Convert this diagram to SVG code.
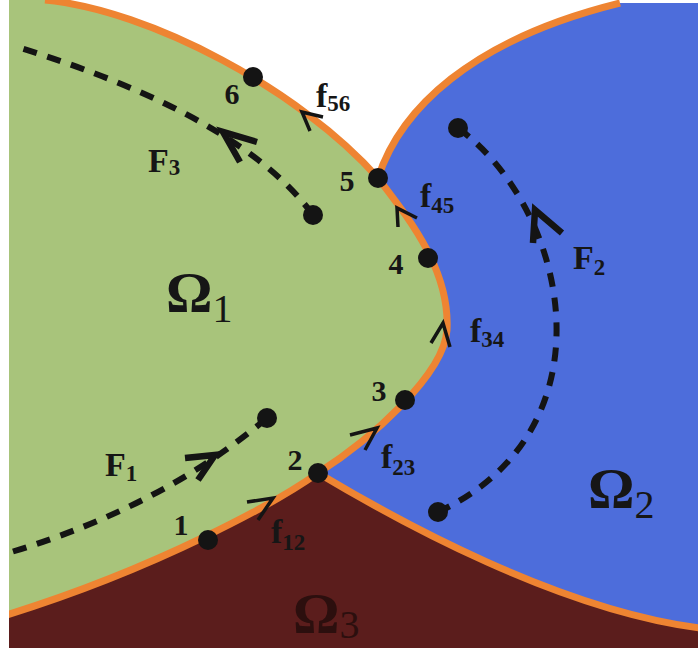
<svg xmlns="http://www.w3.org/2000/svg" width="698" height="651" viewBox="0 0 698 651">
<style>
.edge{fill:none;stroke:#ee8432;stroke-width:7;stroke-linejoin:round}
.pt{fill:#141414}
.lbl{font-family:"Liberation Serif","DejaVu Serif",serif;font-weight:bold;fill:#161616}
.num{font-size:30px;text-anchor:middle}
.f{font-size:34px}
.sub{font-size:23px}
.om{font-family:"Liberation Serif","DejaVu Serif",serif;font-weight:bold;font-size:58px;fill:#161616}
.omsub{font-size:40px;font-weight:normal}
.flow{fill:none;stroke:#141414;stroke-width:6;stroke-dasharray:14 11}
.head{fill:none;stroke:#141414;stroke-width:6.5;stroke-linejoin:miter}
.chev{fill:none;stroke:#141414;stroke-width:3.5}
</style>
<defs>
<clipPath id="frame"><rect x="9" y="0" width="689" height="648"/></clipPath>
</defs>
<rect width="698" height="651" fill="#ffffff"/>
<g clip-path="url(#frame)">
<g id="omega1-region">
<path d="M0,0 L45,0 C150,10 300,90 378,178 C410,220 450,270 447,330 C444,375 370,440 318,473 C280,500 160,568 0,617 Z" fill="#a8c47b"/>
</g>
<g id="omega2-region">
<path d="M378,178 C400,110 470,40 620,3 L700,3 L700,628 C560,610 400,522 318,473 C370,440 444,375 447,330 C450,270 410,220 378,178 Z" fill="#4d6ddb"/>
</g>
<g id="omega3-region">
<path d="M0,617 C160,568 280,500 318,473 C400,522 560,610 700,628 L700,660 L0,660 Z" fill="#5b1d1c"/>
</g>
<g id="interfaces">
<path class="edge" d="M45,0 C150,10 300,90 378,178"/>
<path class="edge" d="M378,178 C400,110 470,40 620,3"/>
<path class="edge" d="M378,178 C410,220 450,270 447,330 C444,375 370,440 318,473"/>
<path class="edge" d="M318,473 C280,500 160,568 0,617"/>
<path class="edge" d="M318,473 C400,522 560,610 700,628"/>
</g>
</g>
<g id="connectors">
<g id="F3-flow">
<path class="flow" d="M313,215 Q240,115 14,46"/>
<circle class="pt" cx="313" cy="215" r="10"/>
<polyline class="head" points="257,142 223,132 240,162"/>
</g>
<g id="F2-flow">
<path class="flow" d="M458,128 C570,210 615,430 438,512"/>
<circle class="pt" cx="458" cy="128" r="10"/>
<circle class="pt" cx="438" cy="512" r="10"/>
<polyline class="head" points="562,233 535,210 533,243"/>
</g>
<g id="F1-flow">
<path class="flow" d="M267,418 Q162,507 8,553"/>
<circle class="pt" cx="267" cy="418" r="10"/>
<polyline class="head" points="185,458 215,455 198,480"/>
</g>
<g id="face-arrows">
<polyline class="chev" points="323,117 302,112 310,131"/>
<polyline class="chev" points="398,227 397,208 417,218"/>
<polyline class="chev" points="431,343 443,323 450,347"/>
<polyline class="chev" points="350,435 377,428 365,450"/>
<polyline class="chev" points="247,502 273,498 258,520"/>
</g>
</g>
<g id="node1"><circle class="pt" cx="208" cy="540" r="10"/><text class="lbl num" x="181" y="535">1</text></g>
<g id="node2"><circle class="pt" cx="318" cy="473" r="10"/><text class="lbl num" x="295" y="470">2</text></g>
<g id="node3"><circle class="pt" cx="405" cy="400" r="10"/><text class="lbl num" x="379" y="401">3</text></g>
<g id="node4"><circle class="pt" cx="428" cy="258" r="10"/><text class="lbl num" x="396" y="274">4</text></g>
<g id="node5"><circle class="pt" cx="378" cy="178" r="10"/><text class="lbl num" x="347" y="191">5</text></g>
<g id="node6"><circle class="pt" cx="253" cy="77" r="10"/><text class="lbl num" x="232" y="104">6</text></g>
<g id="face-labels">
<text class="lbl f" x="316" y="107">f<tspan class="sub" dy="4">56</tspan></text>
<text class="lbl f" x="420" y="207">f<tspan class="sub" dy="6">45</tspan></text>
<text class="lbl f" x="470" y="342">f<tspan class="sub" dy="5">34</tspan></text>
<text class="lbl f" x="381" y="468">f<tspan class="sub" dy="7">23</tspan></text>
<text class="lbl f" x="271" y="543">f<tspan class="sub" dy="7">12</tspan></text>
</g>
<g id="flux-labels">
<text class="lbl f" x="148" y="172">F<tspan class="sub" dy="3">3</tspan></text>
<text class="lbl f" x="573" y="269">F<tspan class="sub" dy="6">2</tspan></text>
<text class="lbl f" x="105" y="476">F<tspan class="sub" dy="5">1</tspan></text>
</g>
<g id="domain-labels">
<text class="om" x="166" y="312">Ω<tspan class="omsub" dy="10">1</tspan></text>
<text class="om" x="588" y="508">Ω<tspan class="omsub" dy="10">2</tspan></text>
<text class="om" x="293" y="633" style="fill:#2c0f0e">Ω<tspan class="omsub" dy="5">3</tspan></text>
</g>
</svg>
